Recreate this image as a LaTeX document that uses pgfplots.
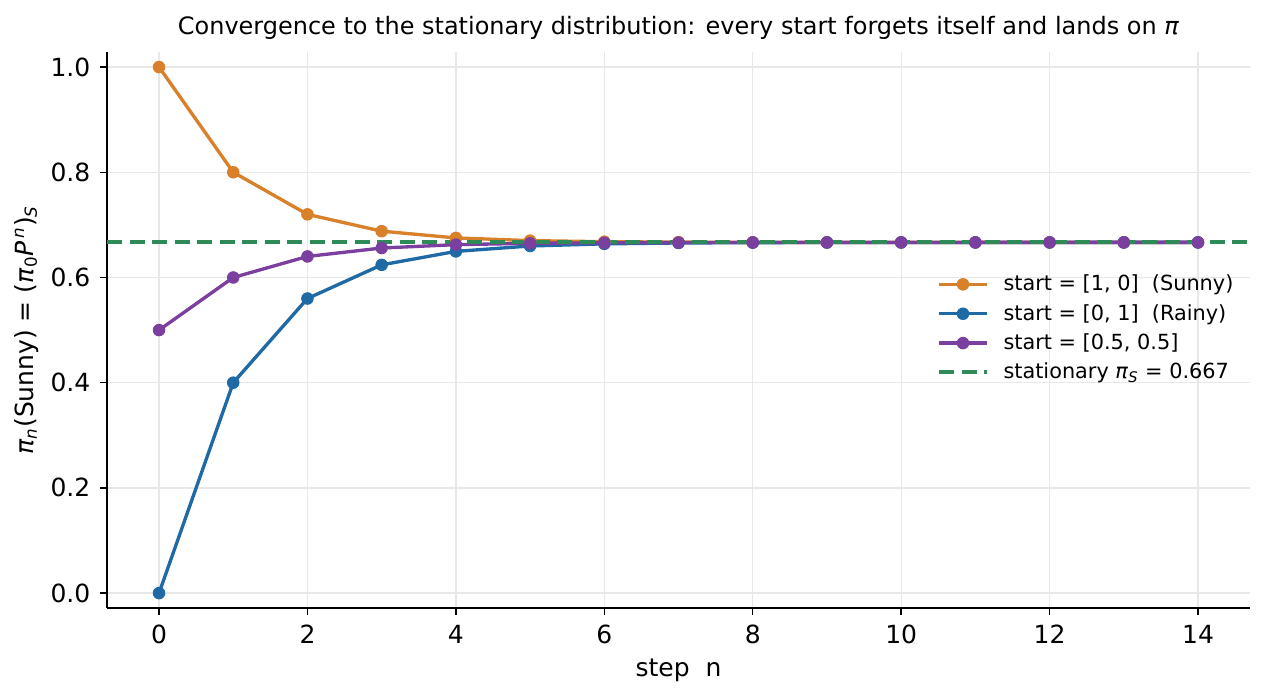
\documentclass[border=0pt]{standalone}
\usepackage{fontspec}
\setmainfont{DejaVu Sans}
\usepackage{pgfplots}
\pgfplotsset{compat=1.18}

\definecolor{cSun}{RGB}{217,128,42}
\definecolor{cRain}{RGB}{31,106,165}
\definecolor{cMix}{RGB}{123,63,160}
\definecolor{cStat}{RGB}{46,139,87}
\newcommand{\ipi}{\textit{π}}

\begin{document}
\begin{tikzpicture}
\useasboundingbox (-51.4pt,-41.8pt) rectangle (556.3pt,291.9pt);
\begin{axis}[
  scale only axis,
  width=548.6pt, height=266.9pt,
  xmin=-0.7, xmax=14.7,
  ymin=-0.0285, ymax=1.0285,
  xtick={0,2,...,14},
  ytick={0,0.2,0.4,0.6,0.8,1.0},
  yticklabel style={/pgf/number format/fixed, /pgf/number format/fixed zerofill,
    /pgf/number format/precision=1, xshift=-1pt},
  /pgf/number format/assume math mode=true,
  ticklabel style={font=\fontsize{12}{14}\selectfont},
  xticklabel style={yshift=-1pt},
  axis x line*=bottom, axis y line*=left,
  axis line style={line width=0.7pt, -},
  tick style={line width=0.7pt, black},
  tick align=outside,
  major tick length=3.5pt,
  grid=major,
  grid style={line width=0.6pt, black!9},
  xlabel={step\ \ n},
  ylabel={\ipi\textsubscript{\textit{n}}(Sunny) = (\ipi\textsubscript{0}\textit{P}\textsuperscript{\,\textit{n}})\textsubscript{\textit{S}}},
  label style={font=\fontsize{12}{14}\selectfont},
  xlabel style={yshift=-0.5pt},
  ylabel style={yshift=-1pt},
  title={Convergence to the stationary distribution: every start forgets itself and lands on \ipi},
  title style={font=\fontsize{11.5}{13}\selectfont, yshift=-3.5pt},
  legend style={draw=none, fill=none, at={(0.995,0.615)}, anchor=north east,
    font=\fontsize{10}{12}\selectfont, row sep=1pt},
  legend cell align=left,
  legend image code/.code={%
    \draw[mark repeat=2,mark phase=2] plot coordinates {(0cm,0cm) (0.4cm,0cm) (0.8cm,0cm)};
    \path (0.98cm,0cm);},
  every axis plot/.append style={line width=1.6pt},
]
\addplot[cSun, mark=*, mark size=2.8pt, mark options={line width=0.4pt}] coordinates {
 (0,1.0) (1,0.8) (2,0.72) (3,0.688) (4,0.6752) (5,0.67008) (6,0.668032)
 (7,0.667213) (8,0.666885) (9,0.666754) (10,0.666702) (11,0.666681)
 (12,0.666672) (13,0.666669) (14,0.666668)};
\addlegendentry{start = [1, 0]\ \ (Sunny)}
\addplot[cRain, mark=*, mark size=2.8pt, mark options={line width=0.4pt}] coordinates {
 (0,0.0) (1,0.4) (2,0.56) (3,0.624) (4,0.6496) (5,0.65984) (6,0.663936)
 (7,0.665574) (8,0.66623) (9,0.666492) (10,0.666597) (11,0.666639)
 (12,0.666656) (13,0.666662) (14,0.666665)};
\addlegendentry{start = [0, 1]\ \ (Rainy)}
\addplot[cMix, mark=*, mark size=2.8pt, mark options={line width=0.4pt}] coordinates {
 (0,0.5) (1,0.6) (2,0.64) (3,0.656) (4,0.6624) (5,0.66496) (6,0.665984)
 (7,0.666394) (8,0.666557) (9,0.666623) (10,0.666649) (11,0.66666)
 (12,0.666664) (13,0.666666) (14,0.666666)};
\addlegendentry{start = [0.5, 0.5]}
\addplot[cStat, line width=1.9pt, dash pattern=on 7.2pt off 3.6pt, forget plot] coordinates {(-0.7,0.6667) (14.7,0.6667)};
\addlegendimage{cStat, line width=1.9pt, dash pattern=on 7.2pt off 3.6pt}
\addlegendentry{stationary \ipi\textsubscript{\textit{S}} = 0.667}
\end{axis}
\end{tikzpicture}
\end{document}
